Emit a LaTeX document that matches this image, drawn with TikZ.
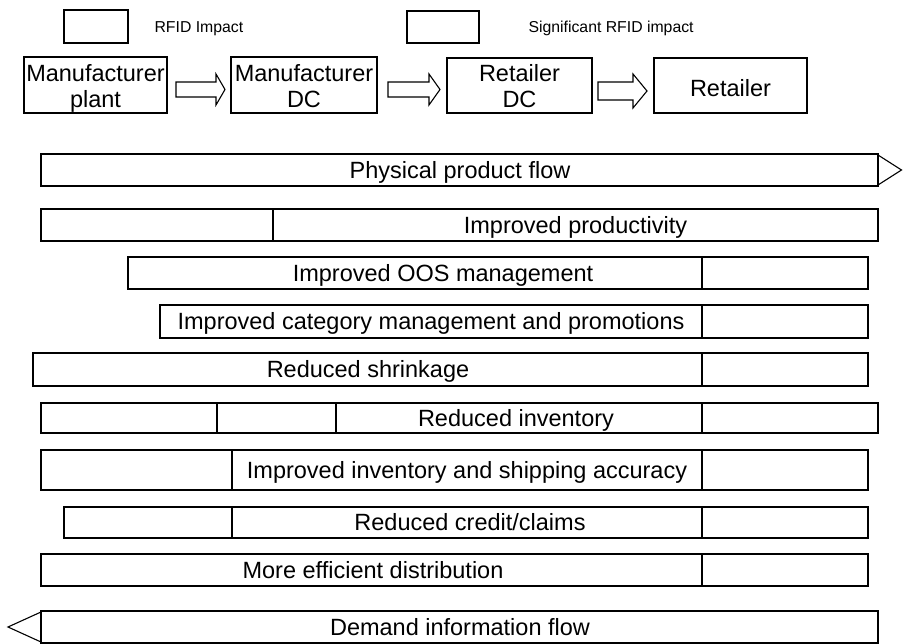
\documentclass[tikz,border=0pt]{standalone}
\usepackage{fontspec}
\setmainfont{Liberation Sans}
\begin{document}
\begin{tikzpicture}[x=1pt,y=-1pt,line width=1.1pt,
  box/.style={draw, rectangle, inner sep=0pt},
  boxtext/.style={inner sep=0pt, align=center, font=\fontsize{23.5}{26}\selectfont},
  legendbox/.style={draw, rectangle, inner sep=0pt},
  legendlabel/.style={anchor=base west, inner sep=0pt, font=\fontsize{15.8}{18}\selectfont},
  barline/.style={draw},
  barlabel/.style={anchor=base, inner sep=0pt, font=\fontsize{23.5}{26}\selectfont},
  blockarrow/.style={draw, line join=miter}]
\useasboundingbox (0,0) rectangle (903,644);

% legend
\node[legendbox, minimum width=64pt, minimum height=33pt] (lg1) at (96,26.5) {};
\node[legendlabel] (lt1) at (154,32.5) {RFID Impact};
\node[legendbox, minimum width=72pt, minimum height=32pt] (lg2) at (443,27) {};
\node[legendlabel] (lt2) at (528,32.5) {Significant RFID impact};

% supply chain boxes
\node[box, minimum width=143pt, minimum height=56pt] (mp) at (95.5,85) {};
\node[boxtext] (mpt) at (95.5,88.8) {Manufacturer\\plant};
\node[box, minimum width=146pt, minimum height=56pt] (md) at (304,85) {};
\node[boxtext] (mdt) at (304,86.6) {Manufacturer\\DC};
\node[box, minimum width=145pt, minimum height=55pt] (rd) at (519.5,85.5) {};
\node[boxtext] (rdt) at (519.5,86) {Retailer\\DC};
\node[box, minimum width=153pt, minimum height=55pt] (rt) at (730.5,85.5) {};
\node[boxtext] (rtt) at (730.5,88.4) {Retailer};

% block arrows
\draw[blockarrow] (176,82) -- (216,82) -- (216,74) -- (225,89.5) -- (216,105) -- (216,97) -- (176,97) -- cycle;
\draw[blockarrow] (388,82) -- (429,82) -- (429,74) -- (440,89.5) -- (429,105) -- (429,97) -- (388,97) -- cycle;
\draw[blockarrow] (598,82) -- (633,82) -- (633,74) -- (647,91) -- (633,108) -- (633,100) -- (598,100) -- cycle;

% Physical product flow
\draw[barline] (41,154) rectangle (878,186);
\draw[blockarrow] (878,155) -- (901.5,170) -- (878,185);
\node[barlabel] (t1) at (460,179) {Physical product flow};

% Improved productivity
\draw[barline] (41,209) rectangle (878,241);
\draw[barline] (273,209) -- (273,241);
\node[barlabel] (t2) at (575.5,233.4) {Improved productivity};

% Improved OOS management
\draw[barline] (128,257) rectangle (868,289);
\draw[barline] (702,257) -- (702,289);
\node[barlabel] (t3) at (443,281.4) {Improved OOS management};

% Improved category management and promotions
\draw[barline] (160,305) rectangle (868,338);
\draw[barline] (702,305) -- (702,338);
\node[barlabel] (t4) at (431,329.9) {Improved category management and promotions};

% Reduced shrinkage
\draw[barline] (33,353) rectangle (868,386);
\draw[barline] (702,353) -- (702,386);
\node[barlabel] (t5) at (368,377.9) {Reduced shrinkage};

% Reduced inventory
\draw[barline] (41,403) rectangle (878,433);
\draw[barline] (217,403) -- (217,433);
\draw[barline] (336,403) -- (336,433);
\draw[barline] (702,403) -- (702,433);
\node[barlabel] (t6) at (516,426.4) {Reduced inventory};

% Improved inventory and shipping accuracy
\draw[barline] (41,450) rectangle (868,490);
\draw[barline] (232,450) -- (232,490);
\draw[barline] (702,450) -- (702,490);
\node[barlabel] (t7) at (467,478.4) {Improved inventory and shipping accuracy};

% Reduced credit/claims
\draw[barline] (64,507) rectangle (868,538);
\draw[barline] (232,507) -- (232,538);
\draw[barline] (702,507) -- (702,538);
\node[barlabel] (t8) at (470,530.9) {Reduced credit/claims};

% More efficient distribution
\draw[barline] (41,554) rectangle (868,586);
\draw[barline] (702,554) -- (702,586);
\node[barlabel] (t9) at (373,578.4) {More efficient distribution};

% Demand information flow
\draw[barline] (41,611) rectangle (878,643);
\draw[blockarrow] (41,612) -- (8,627) -- (41,642);
\node[barlabel] (t10) at (460,635.4) {Demand information flow};
\end{tikzpicture}
\end{document}
